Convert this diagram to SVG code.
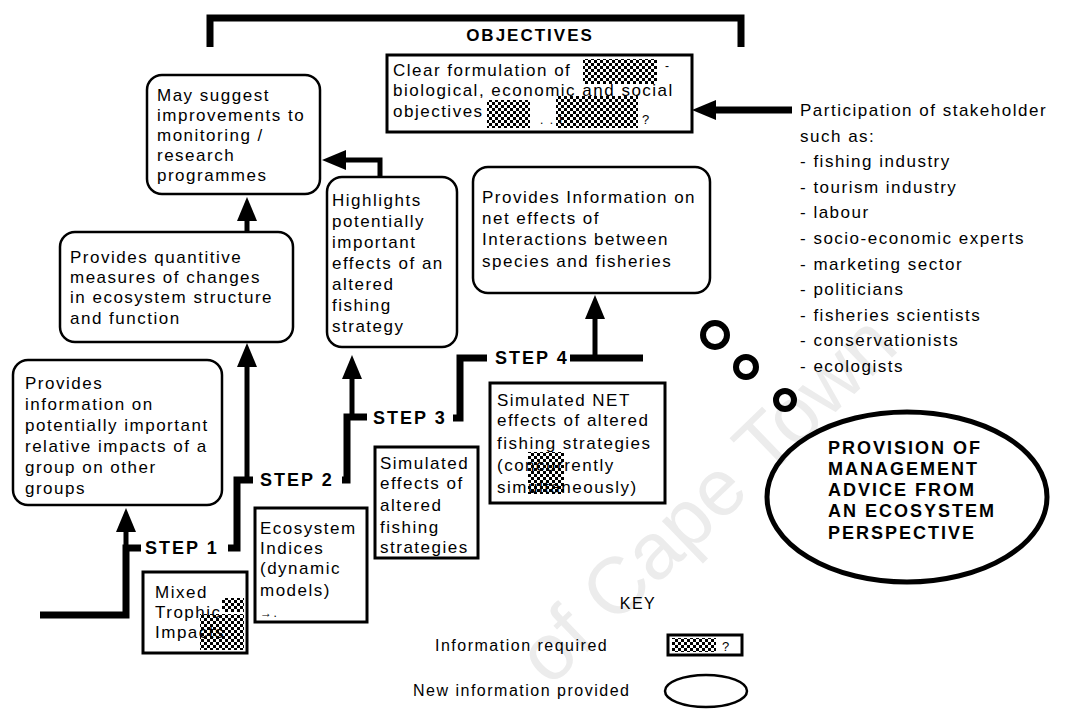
<svg xmlns="http://www.w3.org/2000/svg" width="1067" height="710" viewBox="0 0 1067 710">
  <style>
    .t { font-family: "Liberation Sans", Arial, sans-serif; font-size: 17px; letter-spacing: 1.5px; fill: #000; }
    .b { font-family: "Liberation Sans", Arial, sans-serif; font-size: 18px; font-weight: bold; letter-spacing: 2px; fill: #000; }
    .k { font-family: "Liberation Sans", Arial, sans-serif; font-size: 16px; letter-spacing: 1.5px; fill: #000; }
    .rbox { fill: none; stroke: #000; stroke-width: 2.5; }
    .sbox { fill: none; stroke: #000; stroke-width: 3; }
    .hatch { fill: url(#hatch); }
    .line { fill: none; stroke: #000; stroke-width: 7; stroke-linejoin: miter; }
    .shaft { fill: none; stroke: #000; stroke-width: 5; marker-end: url(#ah); }
    .wm { font-family: "Liberation Sans", Arial, sans-serif; font-size: 80px; fill: #ececec; }
  </style>
  <defs>
    <pattern id="hatch" width="6" height="6" patternUnits="userSpaceOnUse">
      <rect width="3" height="3" fill="#000"/>
      <rect x="3" y="3" width="3" height="3" fill="#000"/>
    </pattern>
    <marker id="ah" viewBox="0 0 24 20" refX="4" refY="10" markerWidth="24" markerHeight="20" markerUnits="userSpaceOnUse" orient="auto">
      <path d="M0,0 L24,10 L0,20 z" fill="#000"/>
    </marker>
  </defs>

  <rect width="1067" height="710" fill="#fff"/>

  <!-- faint background lettering -->
  <text class="wm" transform="translate(550,688) rotate(-44)">of Cape Town</text>

  <!-- objectives bracket and title -->
  <g id="objectives-title">
    <path class="line" d="M210 47 V18 H741 V47"/>
    <text class="b" x="530" y="41" text-anchor="middle" style="font-size:17px">OBJECTIVES</text>
  </g>

  <g id="objectives">
    <rect class="sbox" x="387" y="55" width="305" height="77"/>
    <text class="t" x="393" y="76">Clear formulation of</text>
    <text class="t" x="393" y="96">biological, economic and social</text>
    <text class="t" x="393" y="117">objectives</text>
    <rect class="hatch" x="583" y="59" width="74" height="25"/>
    <rect class="hatch" x="487" y="100" width="43" height="28"/>
    <rect class="hatch" x="556" y="96" width="82" height="32"/>
    <text class="t" x="540" y="124" style="font-size:12px">. . i</text>
    <text class="t" x="642" y="124" style="font-size:13px">?</text>
    <text class="t" x="665" y="70" style="font-size:12px">-</text>
  </g>

  <g id="stakeholders">
    <text class="t" x="800" y="116">Participation of stakeholder</text>
    <text class="t" x="800" y="141.6">such as:</text>
    <text class="t" x="800" y="167.2">- fishing industry</text>
    <text class="t" x="800" y="192.8">- tourism industry</text>
    <text class="t" x="800" y="218.4">- labour</text>
    <text class="t" x="800" y="244">- socio-economic experts</text>
    <text class="t" x="800" y="269.6">- marketing sector</text>
    <text class="t" x="800" y="295.2">- politicians</text>
    <text class="t" x="800" y="320.8">- fisheries scientists</text>
    <text class="t" x="800" y="346.4">- conservationists</text>
    <text class="t" x="800" y="372">- ecologists</text>
  </g>

  <g id="suggest-improvements">
    <rect class="rbox" x="147" y="75" width="173" height="119" rx="15"/>
    <text class="t" x="157" y="101">May suggest</text>
    <text class="t" x="157" y="121">improvements to</text>
    <text class="t" x="157" y="141">monitoring /</text>
    <text class="t" x="157" y="161">research</text>
    <text class="t" x="157" y="181">programmes</text>
  </g>

  <g id="quantitative-measures">
    <rect class="rbox" x="60" y="232" width="233" height="110" rx="15"/>
    <text class="t" x="70" y="263">Provides quantitive</text>
    <text class="t" x="70" y="283">measures of changes</text>
    <text class="t" x="70" y="303">in ecosystem structure</text>
    <text class="t" x="70" y="324">and function</text>
  </g>

  <g id="relative-impacts">
    <rect class="rbox" x="13" y="360" width="209" height="145" rx="15"/>
    <text class="t" x="25" y="389">Provides</text>
    <text class="t" x="25" y="410">information on</text>
    <text class="t" x="25" y="431">potentially important</text>
    <text class="t" x="25" y="452">relative impacts of a</text>
    <text class="t" x="25" y="473">group on other</text>
    <text class="t" x="25" y="494">groups</text>
  </g>

  <g id="highlights">
    <rect class="rbox" x="327" y="177" width="130" height="170" rx="15"/>
    <text class="t" x="332" y="206">Highlights</text>
    <text class="t" x="332" y="227">potentially</text>
    <text class="t" x="332" y="248">important</text>
    <text class="t" x="332" y="269">effects of an</text>
    <text class="t" x="332" y="290">altered</text>
    <text class="t" x="332" y="311">fishing</text>
    <text class="t" x="332" y="332">strategy</text>
  </g>

  <g id="net-effects-info">
    <rect class="rbox" x="473" y="167" width="237" height="126" rx="15"/>
    <text class="t" x="482" y="203">Provides Information on</text>
    <text class="t" x="482" y="224">net effects of</text>
    <text class="t" x="482" y="245">Interactions between</text>
    <text class="t" x="482" y="267">species and fisheries</text>
  </g>

  <g id="mixed-trophic">
    <rect class="sbox" x="143" y="572" width="104" height="81"/>
    <text class="t" x="155" y="598">Mixed</text>
    <text class="t" x="155" y="618">Trophic</text>
    <text class="t" x="155" y="638">Impacts</text>
    <rect class="hatch" x="222" y="598" width="22" height="14"/>
    <rect class="hatch" x="200" y="614" width="44" height="36"/>
  </g>

  <g id="ecosystem-indices">
    <rect class="sbox" x="255" y="508" width="112" height="114"/>
    <text class="t" x="260" y="534">Ecosystem</text>
    <text class="t" x="260" y="554">Indices</text>
    <text class="t" x="260" y="574">(dynamic</text>
    <text class="t" x="260" y="596">models)</text>
    <text class="t" x="260" y="617" style="font-size:12px">→.</text>
  </g>

  <g id="simulated-effects">
    <rect class="sbox" x="375" y="447" width="103" height="111"/>
    <text class="t" x="380" y="469">Simulated</text>
    <text class="t" x="380" y="489">effects of</text>
    <text class="t" x="380" y="511">altered</text>
    <text class="t" x="380" y="533">fishing</text>
    <text class="t" x="380" y="553">strategies</text>
  </g>

  <g id="simulated-net">
    <rect class="sbox" x="490" y="383" width="175" height="120"/>
    <text class="t" x="497" y="406">Simulated NET</text>
    <text class="t" x="497" y="426">effects of altered</text>
    <text class="t" x="497" y="449">fishing strategies</text>
    <text class="t" x="497" y="471">(concurrently</text>
    <text class="t" x="497" y="493">simultaneously)</text>
    <rect class="hatch" x="528" y="452" width="36" height="42"/>
  </g>

  <g id="management-advice">
    <circle cx="715" cy="335" r="12" fill="none" stroke="#000" stroke-width="6"/>
    <circle cx="746" cy="367" r="10" fill="none" stroke="#000" stroke-width="6"/>
    <circle cx="785" cy="400" r="9" fill="none" stroke="#000" stroke-width="6"/>
    <ellipse cx="907" cy="497" rx="140" ry="85" fill="none" stroke="#000" stroke-width="5"/>
    <text class="b" x="828" y="454">PROVISION OF</text>
    <text class="b" x="828" y="475">MANAGEMENT</text>
    <text class="b" x="828" y="496">ADVICE FROM</text>
    <text class="b" x="828" y="517">AN ECOSYSTEM</text>
    <text class="b" x="828" y="539">PERSPECTIVE</text>
  </g>

  <g id="key">
    <text class="k" x="638" y="609" text-anchor="middle">KEY</text>
    <text class="k" x="435" y="651">Information required</text>
    <rect class="sbox" x="668" y="635" width="74" height="20"/>
    <rect class="hatch" x="672" y="638" width="44" height="14"/>
    <text class="k" x="722" y="651" style="font-size:13px">?</text>
    <text class="k" x="413" y="696">New information provided</text>
    <ellipse cx="706" cy="691" rx="41" ry="16" fill="none" stroke="#000" stroke-width="2.5"/>
  </g>

  <!-- connectors: stepped path and arrows -->
  <g id="connectors">
    <path class="line" d="M40 615 H126 V548 H141"/>
    <path class="shaft" d="M126 615 V528"/>
    <path class="line" d="M228 548 H237 V480 H253"/>
    <path class="shaft" d="M247 480 V363"/>
    <path class="line" d="M342 480 H347 V417 H367"/>
    <path class="shaft" d="M352 417 V375"/>
    <path class="line" d="M453 418 H460 V358 H487"/>
    <path class="line" d="M570 358 H643"/>
    <path class="shaft" d="M595 358 V315"/>
    <path class="shaft" d="M247 232 V217"/>
    <path class="shaft" d="M380 178 V160 H342"/>
    <path class="shaft" style="stroke-width:7" d="M792 110 H712"/>
  </g>

  <!-- step labels -->
  <g id="steps">
    <text class="b" x="145" y="554">STEP 1</text>
    <text class="b" x="260" y="486">STEP 2</text>
    <text class="b" x="373" y="424">STEP 3</text>
    <text class="b" x="495" y="364">STEP 4</text>
  </g>
</svg>
